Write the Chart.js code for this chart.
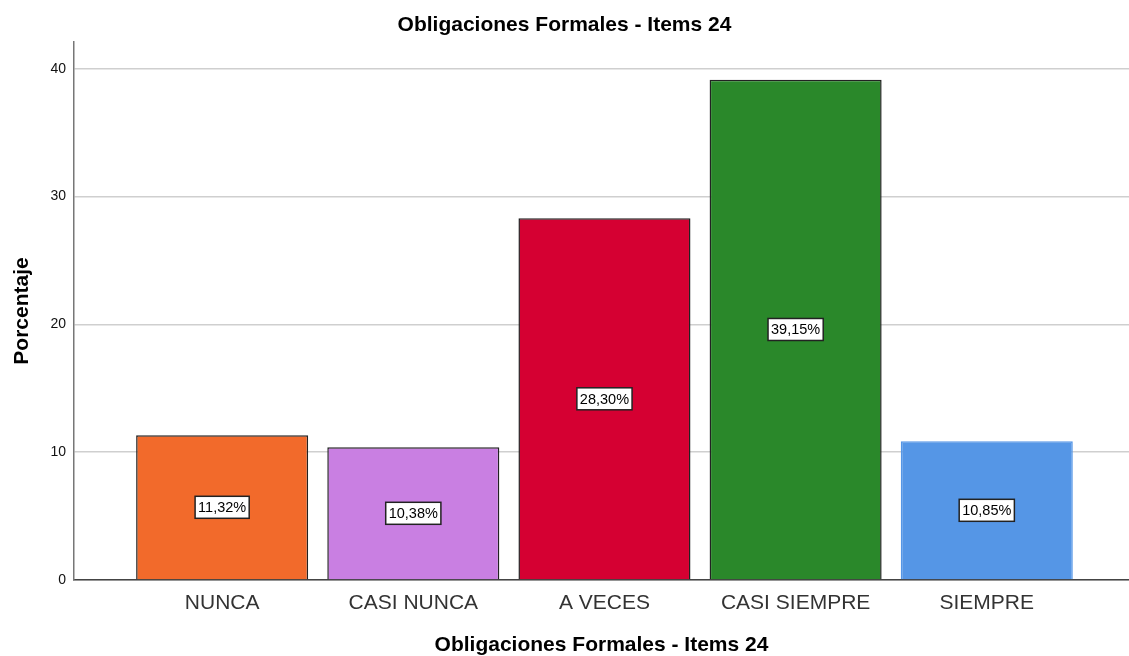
<!DOCTYPE html>
<html>
<head>
<meta charset="utf-8">
<script src="https://cdn.jsdelivr.net/npm/chart.js@4"></script>
<style>
    html, body { margin: 0; padding: 0; background: #fff; }
    #wrap { width: 1129px; height: 656px; }
</style>
</head>
<body>
<div id="wrap"><canvas id="chart" width="1129" height="656"></canvas></div>
<script>
// datos del gráfico
const categories = ['NUNCA', 'CASI NUNCA', 'A VECES', 'CASI SIEMPRE', 'SIEMPRE'];
const percentages = [11.32, 10.38, 28.30, 39.15, 10.85];
const yTicks = [0, 10, 20, 30, 40];
const barColors = ['#f26a2b', '#c97fe2', '#d50032', '#2a882a', '#5596e6'];
const edgeColors = ['#222222', '#222222', '#222222', '#222222', '#5596e6'];

const FONT = '"Liberation Sans", Arial, sans-serif';

// etiquetas de valor en el centro de cada barra
const valueLabels = {
    id: 'valueLabels',
    afterDatasetsDraw(chart) {
        const ctx = chart.ctx;
        const meta = chart.getDatasetMeta(0);
        ctx.save();
        ctx.font = '14.5px ' + FONT;
        ctx.textAlign = 'center';
        ctx.textBaseline = 'middle';
        meta.data.forEach((bar, i) => {
            const text = percentages[i].toFixed(2).replace('.', ',') + '%';
            const cy = (bar.y + bar.base) / 2;
            const w = ctx.measureText(text).width + 6;
            const h = 22;
            ctx.fillStyle = '#ffffff';
            ctx.fillRect(bar.x - w / 2, cy - h / 2, w, h);
            ctx.strokeStyle = '#222222';
            ctx.lineWidth = 1.5;
            ctx.strokeRect(bar.x - w / 2, cy - h / 2, w, h);
            ctx.fillStyle = '#000000';
            ctx.fillText(text, bar.x, cy + 1);
        });
        ctx.restore();
    }
};

new Chart(document.getElementById('chart'), {
    type: 'bar',
    data: {
        datasets: [{
            data: percentages.map((v, i) => ({ x: i, y: v })),
            backgroundColor: barColors,
            borderColor: edgeColors,
            borderWidth: 1.5,
            barPercentage: 0.9,
            categoryPercentage: 1.0
        }]
    },
    options: {
        responsive: false,
        animation: false,
        layout: { padding: 0 },
        plugins: {
            legend: { display: false },
            tooltip: { enabled: false },
            title: {
                display: true,
                text: 'Obligaciones Formales - Items 24',
                color: '#000',
                font: { family: FONT, size: 21, weight: 'bold', lineHeight: 1.2 },
                padding: { top: 12.5, bottom: 4.3 }
            }
        },
        scales: {
            x: {
                type: 'linear',
                offset: false,
                min: -0.775,
                max: 4.744,
                afterBuildTicks(scale) {
                    scale.ticks = categories.map((c, i) => ({ value: i }));
                },
                afterFit(scale) { scale.height = 76; },
                grid: { display: false, drawTicks: false },
                border: { display: true, color: '#444', width: 1.5 },
                ticks: {
                    autoSkip: false,
                    maxRotation: 0,
                    padding: 11,
                    color: '#333',
                    font: { family: FONT, size: 21 },
                    callback: v => categories[v]
                },
                title: {
                    display: true,
                    text: 'Obligaciones Formales - Items 24',
                    color: '#000',
                    font: { family: FONT, size: 21, weight: 'bold', lineHeight: 1 },
                    padding: { top: 0, bottom: 0 }
                }
            },
            y: {
                min: 0,
                max: 42.1,
                afterBuildTicks(scale) {
                    scale.ticks = yTicks.map(v => ({ value: v }));
                },
                afterFit(scale) { scale.width = 74; },
                grid: { color: '#cfcfcf', lineWidth: 1.5, drawTicks: false },
                border: { display: true, color: '#777', width: 1.5 },
                ticks: {
                    padding: 8,
                    color: '#111',
                    font: { family: FONT, size: 14 }
                },
                title: {
                    display: true,
                    text: 'Porcentaje',
                    color: '#000',
                    font: { family: FONT, size: 21, weight: 'bold', lineHeight: 1.2 },
                    padding: { top: 10, bottom: 0 }
                }
            }
        }
    },
    plugins: [valueLabels]
});
</script>
</body>
</html>
